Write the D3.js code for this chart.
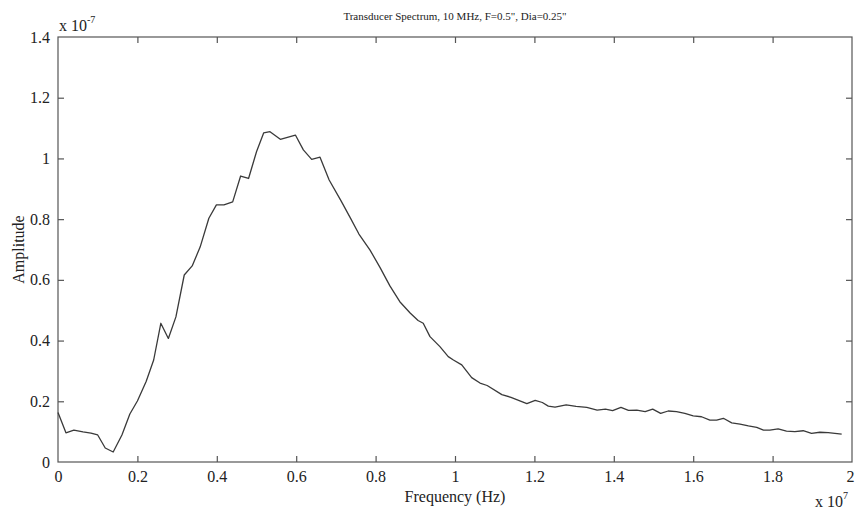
<!DOCTYPE html>
<html>
<head>
<meta charset="utf-8">
<script src="https://cdn.jsdelivr.net/npm/d3@7"></script>
<style>
  body { margin: 0; background: #fff; }
  text { font-family: "Liberation Serif", "Times New Roman", serif; fill: #222; }
</style>
</head>
<body>
<div class="chart"></div>
<script>
// frequency in units of 1e7 Hz, amplitude in units of 1e-7
var freq = [0, 0.020, 0.040, 0.063, 0.083, 0.100, 0.119, 0.139, 0.161, 0.181,
  0.200, 0.222, 0.241, 0.259, 0.278, 0.297, 0.318, 0.338, 0.358, 0.380,
  0.399, 0.418, 0.440, 0.460, 0.480, 0.500, 0.518, 0.534, 0.560, 0.598,
  0.618, 0.639, 0.660, 0.683, 0.713, 0.736, 0.758, 0.786, 0.811, 0.836,
  0.861, 0.887, 0.907, 0.920, 0.937, 0.962, 0.983, 0.996, 1.017, 1.042,
  1.063, 1.081, 1.118, 1.141, 1.181, 1.202, 1.220, 1.235, 1.252, 1.280,
  1.305, 1.332, 1.358, 1.379, 1.397, 1.418, 1.437, 1.458, 1.479, 1.498,
  1.518, 1.537, 1.558, 1.579, 1.600, 1.621, 1.642, 1.659, 1.676, 1.697,
  1.718, 1.739, 1.760, 1.777, 1.793, 1.814, 1.835, 1.856, 1.877, 1.898,
  1.919, 1.940, 1.957, 1.974];

var amp = [0.163, 0.096, 0.105, 0.099, 0.095, 0.089, 0.046, 0.033, 0.089, 0.158,
  0.201, 0.265, 0.336, 0.457, 0.407, 0.478, 0.616, 0.646, 0.708, 0.803,
  0.847, 0.847, 0.857, 0.942, 0.934, 1.022, 1.084, 1.088, 1.063, 1.077,
  1.028, 0.997, 1.004, 0.929, 0.860, 0.805, 0.751, 0.698, 0.641, 0.580,
  0.528, 0.491, 0.466, 0.457, 0.413, 0.380, 0.347, 0.336, 0.320, 0.278,
  0.260, 0.252, 0.222, 0.213, 0.192, 0.203, 0.196, 0.184, 0.181, 0.188,
  0.183, 0.180, 0.171, 0.174, 0.169, 0.180, 0.170, 0.171, 0.166, 0.174,
  0.160, 0.168, 0.166, 0.160, 0.152, 0.149, 0.138, 0.138, 0.144, 0.129,
  0.125, 0.119, 0.114, 0.105, 0.105, 0.109, 0.102, 0.100, 0.103, 0.0945,
  0.098, 0.0965, 0.0945, 0.092];

var xTicks = [0, 0.2, 0.4, 0.6, 0.8, 1, 1.2, 1.4, 1.6, 1.8, 2];
var yTicks = [0, 0.2, 0.4, 0.6, 0.8, 1, 1.2, 1.4];

var titleText = "Transducer Spectrum, 10 MHz, F=0.5\", Dia=0.25\"";

var margin = {top: 37, right: 3, bottom: 52, left: 58},
  width = 855 - margin.left - margin.right,
  height = 514 - margin.top - margin.bottom;

var data = freq.map(function(f, i) { return {f: f, a: amp[i]}; });

var xScale = d3.scaleLinear().domain([0, 2]).range([0, width]);
var yScale = d3.scaleLinear().domain([0, 1.4]).range([height, 0]);

var svg = d3.select(".chart").append("svg")
  .attr("width", 855)
  .attr("height", 514);

var g = svg.append("g")
  .attr("transform", "translate(" + margin.left + "," + margin.top + ")");

// box
g.append("rect")
  .attr("width", width)
  .attr("height", height)
  .attr("fill", "none")
  .attr("stroke", "#555")
  .attr("stroke-width", 1.2);

// bottom axis, ticks pointing in
var xAxis = d3.axisBottom(xScale).tickValues(xTicks).tickSizeInner(-6).tickSizeOuter(0)
  .tickPadding(9).tickFormat(d3.format("~g"));
var gx = g.append("g").attr("transform", "translate(0," + height + ")").call(xAxis);

// top mirrored ticks
var gxt = g.append("g").call(d3.axisTop(xScale).tickValues(xTicks).tickSizeInner(-6).tickSizeOuter(0).tickFormat(""));

var yAxis = d3.axisLeft(yScale).tickValues(yTicks).tickSizeInner(-6).tickSizeOuter(0)
  .tickPadding(8).tickFormat(d3.format("~g"));
var gy = g.append("g").call(yAxis);

var gyr = g.append("g").attr("transform", "translate(" + width + ",0)")
  .call(d3.axisRight(yScale).tickValues(yTicks).tickSizeInner(-6).tickSizeOuter(0).tickFormat(""));

[gx, gxt, gy, gyr].forEach(function(a) {
  a.select(".domain").remove();
  a.selectAll(".tick line").attr("stroke", "#555").attr("stroke-width", 1.2);
  a.selectAll(".tick text").style("font-family", "Liberation Serif, serif")
    .style("font-size", "16px").attr("fill", "#222");
});
// hide end ticks that sit on the box corners
gx.selectAll(".tick line").filter(function(d) { return d === 0 || d === 2; }).remove();
gxt.selectAll(".tick line").filter(function(d) { return d === 0 || d === 2; }).remove();
gy.selectAll(".tick line").filter(function(d) { return d === 0 || d === 1.4; }).remove();
gyr.selectAll(".tick line").filter(function(d) { return d === 0 || d === 1.4; }).remove();
// keep the last x label inside the page
gx.selectAll(".tick text").filter(function(d) { return d === 2; }).attr("dx", -2);

// the spectrum
var line = d3.line()
  .x(function(d) { return xScale(d.f); })
  .y(function(d) { return yScale(d.a); });

g.append("path")
  .datum(data)
  .attr("fill", "none")
  .attr("stroke", "#3a3a3a")
  .attr("stroke-width", 1.3)
  .attr("stroke-linejoin", "round")
  .attr("d", line);

// title
svg.append("text")
  .attr("x", margin.left + width / 2)
  .attr("y", 20)
  .attr("text-anchor", "middle")
  .style("font-size", "11px")
  .text(titleText);

// axis labels
svg.append("text")
  .attr("x", margin.left + width / 2)
  .attr("y", 502)
  .attr("text-anchor", "middle")
  .style("font-size", "16px")
  .text("Frequency (Hz)");

svg.append("text")
  .attr("transform", "translate(24," + (margin.top + height / 2) + ") rotate(-90)")
  .attr("text-anchor", "middle")
  .style("font-size", "16px")
  .text("Amplitude");

// exponent labels
var ey = svg.append("text").attr("x", 59).attr("y", 31).style("font-size", "16px");
ey.append("tspan").text("x 10");
ey.append("tspan").attr("dy", -8).style("font-size", "10px").text("-7");

var ex = svg.append("text").attr("x", 815).attr("y", 507).style("font-size", "16px");
ex.append("tspan").text("x 10");
ex.append("tspan").attr("dy", -8).style("font-size", "10px").text("7");
</script>
</body>
</html>
